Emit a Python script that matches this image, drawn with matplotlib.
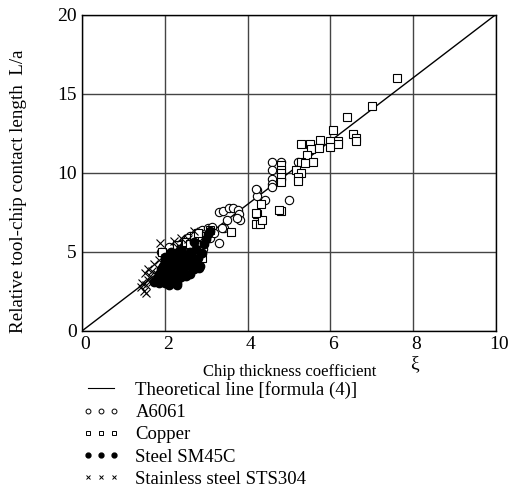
import numpy as np
import matplotlib.pyplot as plt
import matplotlib.transforms as mtransforms
from matplotlib.lines import Line2D

plt.rcParams['font.family'] = ['Liberation Serif', 'DejaVu Serif']

# theoretical line [formula (4)]
xi_theory = [0, 10]
la_theory = [0, 20]

# A6061 (open circles)
a6061_xi = [4.6, 4.8, 4.6, 4.6, 4.8, 4.6, 4.6, 5.21, 4.22, 4.22, 4.2, 4.42, 5.01,
            3.31, 3.41, 3.54, 3.66, 3.76, 3.8, 3.82, 3.5, 3.42, 3.74,
            2.2, 2.3, 2.4, 2.5, 2.5, 2.6, 2.6, 2.7, 2.7, 2.75, 2.8, 2.85, 2.9, 2.95,
            3.0, 3.05, 3.1, 3.15, 3.2, 3.3, 3.38, 2.93, 2.69, 2.71, 2.57, 2.4, 2.2,
            2.0, 1.9, 2.1]
a6061_la = [10.7, 10.7, 10.2, 9.6, 9.6, 9.3, 9.1, 10.7, 8.9, 8.5, 9.0, 8.27, 8.27,
            7.5, 7.6, 7.77, 7.77, 7.65, 7.4, 7.0, 7.0, 6.5, 7.13,
            4.8, 5.2, 5.5, 5.0, 5.8, 5.3, 6.0, 5.0, 5.7, 6.2, 5.4, 6.0, 6.4, 5.6,
            6.2, 6.5, 5.9, 6.6, 6.2, 5.55, 6.5, 5.17, 4.07, 4.4, 5.87, 4.7, 4.3,
            4.8, 5.0, 5.3]

# Copper (open squares)
copper_xi = [7.62, 7.0, 6.41, 6.07, 6.55, 6.61, 6.61, 6.19, 6.19, 6.0, 6.0, 5.76,
             5.51, 5.3, 5.54, 5.73, 5.44, 5.59, 5.3, 5.4, 5.16, 5.3, 5.21, 5.21,
             4.8, 4.8, 4.8, 4.8, 4.8, 4.32, 4.22, 4.2, 4.3, 4.34, 4.8, 3.6, 4.2,
             4.77, 2.9, 1.93, 2.0, 2.1, 2.2, 2.3, 2.4, 2.5, 2.6, 2.7, 2.8, 3.0,
             3.1, 2.45, 2.35]
copper_la = [15.97, 14.2, 13.5, 12.7, 12.45, 12.2, 12.0, 12.0, 11.8, 12.0, 11.6, 12.1,
             11.8, 11.8, 11.5, 11.55, 11.1, 10.7, 10.65, 10.6, 10.2, 10.0, 9.7, 9.5,
             10.5, 10.2, 10.0, 9.7, 9.4, 8.0, 7.4, 6.77, 6.77, 7.0, 7.6, 6.27, 7.45,
             7.66, 4.6, 5.0, 4.5, 4.0, 4.9, 5.4, 5.2, 5.6, 5.5, 6.0, 6.2, 6.0,
             6.4, 4.3, 4.8]

# Steel SM45C (filled circles)
steel_xi = [1.8, 1.85, 1.85, 1.9, 1.9, 1.95, 1.95, 2.0, 2.0, 2.0, 2.0, 2.05, 2.05,
            2.1, 2.1, 2.1, 2.1, 2.15, 2.15, 2.2, 2.2, 2.2, 2.2, 2.25, 2.25, 2.3,
            2.3, 2.3, 2.3, 2.35, 2.35, 2.4, 2.4, 2.4, 2.4, 2.45, 2.45, 2.5, 2.5,
            2.5, 2.55, 2.6, 2.6, 2.6, 2.65, 2.7, 2.7, 2.75, 2.8, 2.85, 2.9, 2.95,
            3.0, 3.05, 3.1, 2.7, 2.3, 1.75, 2.0, 2.15, 2.29, 2.82]
steel_la = [3.3, 3.6, 3.0, 3.9, 3.2, 3.5, 4.1, 3.0, 3.4, 3.8, 4.3, 3.2, 3.7,
            2.9, 3.5, 4.0, 4.5, 3.3, 3.9, 3.1, 3.6, 4.2, 4.7, 3.4, 4.0, 3.2,
            3.8, 4.4, 4.9, 3.6, 4.2, 3.4, 4.0, 4.6, 5.1, 3.8, 4.4, 3.5, 4.1,
            4.8, 4.5, 3.6, 4.2, 5.0, 4.7, 3.9, 4.4, 5.2, 4.6, 4.1, 4.9, 5.5,
            5.8, 6.1, 6.3, 5.6, 2.9, 3.1, 4.7, 5.0, 3.0, 3.97]

# Stainless steel STS304 (crosses)
sts_xi = [1.42, 1.5, 1.54, 1.51, 1.45, 1.6, 1.65, 1.7, 1.8, 1.75, 1.85, 1.89, 2.22,
          1.95, 2.0, 2.1, 2.3, 2.4, 2.56, 1.55, 1.7, 1.85, 1.6, 2.7]
sts_la = [2.77, 2.55, 2.38, 3.65, 3.0, 3.2, 3.5, 3.8, 3.6, 4.2, 4.5, 5.55, 5.7,
          4.0, 4.6, 5.0, 5.3, 5.9, 5.8, 2.9, 3.1, 3.3, 3.9, 6.3]

fig = plt.figure(figsize=(5.1, 4.88), dpi=100)
ax = fig.add_axes([0.161, 0.322, 0.811, 0.648])

ax.plot(xi_theory, la_theory, color='black', lw=1, zorder=3)
ax.plot(a6061_xi, a6061_la, 'o', mfc='white', mec='black', ms=6, mew=0.8, ls='none', zorder=4)
ax.plot(copper_xi, copper_la, 's', mfc='white', mec='black', ms=5.5, mew=0.8, ls='none', zorder=4)
ax.plot(steel_xi, steel_la, 'o', mfc='black', mec='black', ms=6, ls='none', zorder=5)
ax.plot(sts_xi, sts_la, 'x', color='black', ms=6, mew=0.8, ls='none', zorder=5)

ax.set_xlim(0, 10)
ax.set_ylim(0, 20)
ax.set_xticks([0, 2, 4, 6, 8, 10])
ax.set_yticks([0, 5, 10, 15, 20])
ax.grid(True, color='#444444', lw=1)
ax.set_axisbelow(True)
ax.tick_params(length=0, labelsize=14, pad=4)
for s in ax.spines.values():
    s.set_linewidth(1)

# x tick labels sit a little right of the gridlines in the original
shift = mtransforms.ScaledTranslation(3/100, 0, fig.dpi_scale_trans)
for lab in ax.get_xticklabels():
    lab.set_transform(lab.get_transform() + shift)

fig.text(19/510, 1 - 191/488, 'Relative tool-chip contact length  L/a', fontsize=13.7,
         rotation=90, ha='center', va='center')
fig.text(290/510, 1 - 372/488, 'Chip thickness coefficient', fontsize=12,
         ha='center', va='center')
fig.text(415/510, 1 - 364/488, 'ξ', fontsize=14, ha='center', va='center')

handles = [
    Line2D([], [], color='black', lw=0.8),
    Line2D([], [], marker='o', mfc='white', mec='black', ms=3.5, mew=0.7, ls='none'),
    Line2D([], [], marker='s', mfc='white', mec='black', ms=3.5, mew=0.7, ls='none'),
    Line2D([], [], marker='o', color='black', ms=3.5, ls='none'),
    Line2D([], [], marker='x', color='black', ms=3.5, mew=0.7, ls='none'),
]
labels = ['Theoretical line [formula (4)]', 'A6061', 'Copper',
          'Steel SM45C', 'Stainless steel STS304']
fig.legend(handles, labels, loc='upper left', bbox_to_anchor=(82/510, 1 - 381/488),
           frameon=False, numpoints=3, fontsize=13.5, handlelength=2.0,
           handletextpad=0.85, labelspacing=0.27, borderpad=0, borderaxespad=0)

fig.savefig('out.png', dpi=100)
